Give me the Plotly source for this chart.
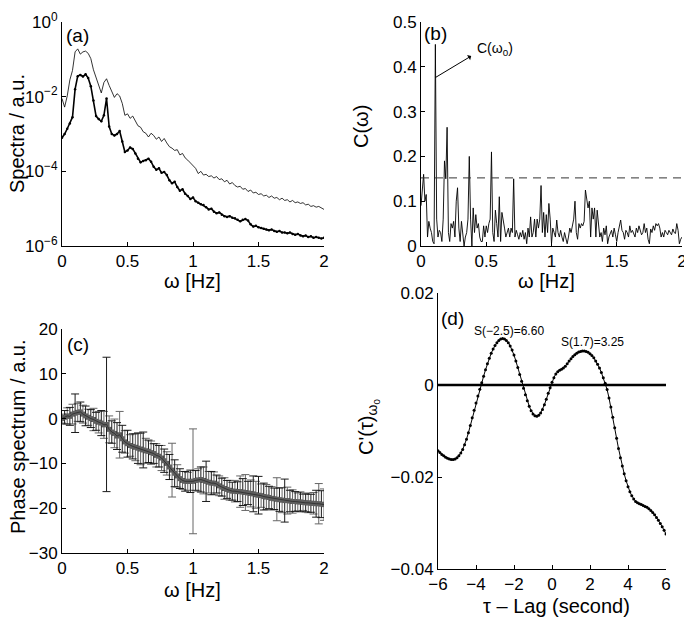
import numpy as np
import plotly.graph_objects as go

# (a) power spectra, log10 of the values
freq_a = np.linspace(0, 2, 101)
upper_exp = [-2.05, -2.28, -1.98, -1.55, -1.30, -0.80, -0.72, -0.86, -0.80, -0.78,
             -0.84, -0.98, -1.28, -1.50, -1.72, -1.90, -1.62, -1.52, -1.70, -1.86,
             -2.02, -1.92, -1.98, -2.18, -2.50, -2.46, -2.58, -2.52, -2.64, -2.78,
             -2.82, -2.94, -2.98, -3.08, -2.98, -3.04, -3.14, -3.08, -3.20, -3.12,
             -3.24, -3.34, -3.38, -3.44, -3.42, -3.56, -3.52, -3.64, -3.70, -3.78,
             -3.84, -3.92, -4.06, -4.00, -4.10, -4.08, -4.14, -4.12, -4.18, -4.14,
             -4.22, -4.20, -4.28, -4.24, -4.34, -4.30, -4.38, -4.42, -4.40, -4.48,
             -4.46, -4.54, -4.50, -4.58, -4.56, -4.62, -4.60, -4.66, -4.64, -4.70,
             -4.66, -4.72, -4.70, -4.76, -4.72, -4.78, -4.76, -4.82, -4.78, -4.84,
             -4.82, -4.86, -4.84, -4.90, -4.88, -4.94, -4.92, -4.96, -4.94, -4.98,
             -5.02]
lower_exp = [-3.10, -3.00, -2.86, -2.72, -2.55, -1.80, -1.45, -1.42, -1.46, -1.40,
             -1.50, -1.72, -2.10, -2.52, -2.60, -2.66, -2.50, -2.05, -2.80, -3.00,
             -3.04, -3.00, -2.92, -3.20, -3.48, -3.44, -3.36, -3.40, -3.52, -3.66,
             -3.76, -3.72, -3.70, -3.66, -3.74, -3.88, -3.96, -3.92, -4.04, -4.02,
             -4.10, -4.24, -4.32, -4.28, -4.42, -4.52, -4.48, -4.60, -4.66, -4.74,
             -4.70, -4.80, -4.84, -4.88, -4.90, -4.96, -5.02, -5.00, -5.08, -5.12,
             -5.10, -5.16, -5.20, -5.22, -5.20, -5.24, -5.26, -5.30, -5.34, -5.30,
             -5.28, -5.32, -5.42, -5.48, -5.46, -5.50, -5.52, -5.54, -5.56, -5.58,
             -5.56, -5.60, -5.62, -5.60, -5.64, -5.64, -5.66, -5.64, -5.68, -5.70,
             -5.68, -5.72, -5.74, -5.72, -5.76, -5.74, -5.78, -5.76, -5.78, -5.80,
             -5.78]

# (b) coherence
freq_b = np.linspace(0, 2, 201)
coherence = [0.09, 0.13, 0.16, 0.10, 0.115, 0.02, 0.055, 0.04, 0.03, 0.01,
             0.005, 0.45, 0.06, 0.02, 0.035, 0.03, 0.01, 0.06, 0.19, 0.15,
             0.265, 0.03, 0.01, 0.05, 0.04, 0.055, 0.02, 0.10, 0.13, 0.04,
             0.01, 0.055, 0.03, 0.0, 0.02, 0.03, 0.06, 0.20, 0.06, 0.0,
             0.085, 0.03, 0.07, 0.04, 0.05, 0.02, 0.01, 0.01, 0.045, 0.02,
             0.045, 0.03, 0.05, 0.06, 0.21, 0.03, 0.01, 0.08, 0.05, 0.02,
             0.11, 0.01, 0.075, 0.06, 0.04, 0.02, 0.03, 0.04, 0.02, 0.04,
             0.03, 0.15, 0.02, 0.035, 0.025, 0.015, 0.03, 0.02, 0.035, 0.015,
             0.03, 0.005, 0.04, 0.02, 0.065, 0.02, 0.03, 0.06, 0.02, 0.06,
             0.04, 0.06, 0.135, 0.03, 0.075, 0.02, 0.07, 0.03, 0.095, 0.06,
             0.005, 0.04, 0.03, 0.02, 0.058, 0.03, 0.02, 0.035, 0.02, 0.01,
             0.03, 0.015, 0.005, 0.02, 0.04, 0.03, 0.045, 0.06, 0.10, 0.03,
             0.015, 0.05, 0.04, 0.05, 0.045, 0.055, 0.125, 0.10, 0.085, 0.10,
             0.02, 0.085, 0.06, 0.085, 0.02, 0.08, 0.05, 0.02, 0.03, 0.01,
             0.04, 0.025, 0.045, 0.005, 0.02, 0.03, 0.035, 0.02, 0.04, 0.025,
             0.01, 0.03, 0.045, 0.058, 0.035, 0.03, 0.015, 0.035, 0.03, 0.02,
             0.045, 0.03, 0.035, 0.025, 0.02, 0.04, 0.03, 0.045, 0.035, 0.025,
             0.03, 0.05, 0.03, 0.04, 0.015, 0.005, 0.038, 0.03, 0.045, 0.035,
             0.05, 0.045, 0.05, 0.04, 0.02, 0.03, 0.02, 0.035, 0.03, 0.025,
             0.035, 0.03, 0.025, 0.038, 0.03, 0.028, 0.05, 0.035, 0.005, 0.015,
             0.02]
coh_threshold = 0.152

# (c) phase spectrum with error bars
freq_c = np.linspace(0, 2, 101)
phase = [0.0, 0.3, 0.6, 0.5, 1.0, 1.2, 1.4, 1.5, 1.0, 0.6,
         0.3, 0.0, -0.2, -0.6, -0.8, -1.0, -1.4, -1.3, -2.4, -3.0,
         -3.3, -3.9, -3.6, -4.5, -5.2, -5.6, -6.0, -6.2, -6.4, -6.6,
         -6.8, -7.0, -7.2, -7.3, -7.6, -7.8, -8.2, -8.4, -8.8, -9.4,
         -10.0, -10.8, -11.5, -12.2, -12.8, -13.4, -13.8, -14.0, -14.0, -14.0,
         -14.0, -13.8, -13.7, -13.6, -13.8, -14.0, -14.2, -14.4, -14.4, -14.6,
         -15.0, -15.3, -15.6, -15.8, -16.0, -16.2, -16.2, -16.3, -16.3, -16.4,
         -16.5, -16.6, -16.7, -16.8, -17.0, -17.1, -17.2, -17.4, -17.5, -17.6,
         -17.8, -17.9, -18.0, -18.1, -18.2, -18.3, -18.3, -18.4, -18.5, -18.5,
         -18.6, -18.6, -18.7, -18.8, -18.8, -18.9, -18.9, -19.0, -19.0, -19.1,
         -19.2]
phase_err = [1.0, 1.5, 1.8, 2.0, 2.2, 4.3, 2.0, 2.2, 2.0, 2.2,
             1.8, 2.0, 2.5, 2.0, 2.4, 2.8, 3.0, 15.0, 3.0, 2.5,
             3.2, 3.0, 5.2, 3.0, 2.5, 3.0, 2.4, 2.8, 3.0, 3.4,
             3.5, 4.0, 2.8, 2.5, 2.6, 2.2, 2.6, 2.4, 2.8, 2.6,
             2.6, 2.8, 6.0, 3.0, 2.5, 2.2, 2.0, 2.2, 2.0, 2.5,
             11.7, 2.2, 2.5, 2.8, 3.0, 4.5, 2.4, 2.6, 2.5, 2.0,
             2.2, 2.0, 2.4, 2.0, 2.2, 2.0, 2.4, 2.2, 3.5, 3.0,
             4.0, 2.6, 3.0, 4.0, 3.0, 4.2, 2.6, 3.0, 2.8, 2.5,
             2.6, 2.4, 4.8, 2.6, 2.8, 4.8, 3.0, 2.4, 2.6, 2.2,
             2.0, 2.2, 1.8, 2.0, 2.2, 2.0, 2.4, 3.0, 4.5, 3.0,
             3.5]

# (d) lagged cross-correlation at omega_0
lag = np.linspace(-6, 6, 121)
cprime = [-0.0143, -0.0147, -0.0151, -0.0154, -0.0157, -0.0159, -0.0161, -0.0162, -0.0162, -0.0161,
          -0.0158, -0.0154, -0.0148, -0.0140, -0.0130, -0.0118, -0.0104, -0.0088, -0.0071, -0.0055,
          -0.0039, -0.0024, -0.0009, 0.0005, 0.0019, 0.0033, 0.0046, 0.0058, 0.0069, 0.0078,
          0.0086, 0.0092, 0.0097, 0.0100, 0.0101, 0.0100, 0.0097, 0.0092, 0.0085, 0.0076,
          0.0065, 0.0052, 0.0038, 0.0023, 0.0008, -0.0007, -0.0021, -0.0034, -0.0046, -0.0056,
          -0.0063, -0.0067, -0.0068, -0.0066, -0.0061, -0.0053, -0.0043, -0.0031, -0.0018, -0.0006,
          0.0006, 0.0016, 0.0024, 0.0029, 0.0032, 0.0034, 0.0037, 0.0041, 0.0046, 0.0052,
          0.0057, 0.0062, 0.0066, 0.0069, 0.0072, 0.0073, 0.0074, 0.0074, 0.0073, 0.0071,
          0.0068, 0.0064, 0.0059, 0.0052, 0.0045, 0.0037, 0.0027, 0.0016, 0.0004, -0.0010,
          -0.0028, -0.0048, -0.0070, -0.0093, -0.0116, -0.0138, -0.0158, -0.0176, -0.0193, -0.0208,
          -0.0221, -0.0232, -0.0241, -0.0248, -0.0253, -0.0256, -0.0258, -0.0260, -0.0262, -0.0264,
          -0.0266, -0.0269, -0.0273, -0.0277, -0.0282, -0.0288, -0.0294, -0.0301, -0.0308, -0.0316,
          -0.0324]

FONT = "Liberation Sans Narrow, Liberation Sans, Arial, sans-serif"
# the page body has an 8px margin, so the figure is 8px smaller and shifted
OFF = 8
W, H = 692 - OFF, 623 - OFF


def fx(px):
    return (px - OFF) / W


def fy(py):
    return 1 - (py - OFF) / H


fig = go.Figure()

# (a)
fig.add_trace(go.Scatter(x=freq_a, y=10 ** np.array(upper_exp), mode="lines",
                         line=dict(color="black", width=0.8), xaxis="x", yaxis="y"))
fig.add_trace(go.Scatter(x=freq_a, y=10 ** np.array(lower_exp), mode="lines+markers",
                         line=dict(color="black", width=1.6), marker=dict(size=2.5, color="black"),
                         xaxis="x", yaxis="y"))

# (b)
fig.add_trace(go.Scatter(x=freq_b, y=coherence, mode="lines",
                         line=dict(color="black", width=0.9), xaxis="x2", yaxis="y2"))
fig.add_trace(go.Scatter(x=[0, 2], y=[coh_threshold, coh_threshold], mode="lines",
                         line=dict(color="#333", width=1, dash="8px,6px"), xaxis="x2", yaxis="y2"))

# (c) alternate bar colours like the original
fc = np.array(freq_c)
ph = np.array(phase)
pe = np.array(phase_err)
for start, col in [(0, "#666666"), (1, "#1a1a1a")]:
    fig.add_trace(go.Scatter(x=fc[start::2], y=ph[start::2], mode="markers",
                             marker=dict(symbol="square", size=5, color="#5e5e5e"),
                             error_y=dict(type="data", array=pe[start::2], color=col,
                                          thickness=1, width=4),
                             xaxis="x3", yaxis="y3"))
fig.add_trace(go.Scatter(x=freq_c, y=phase, mode="lines",
                         line=dict(color="#222", width=0.7), xaxis="x3", yaxis="y3"))

# (d)
fig.add_trace(go.Scatter(x=[-6, 6], y=[0, 0], mode="lines",
                         line=dict(color="black", width=2.5), xaxis="x4", yaxis="y4"))
fig.add_trace(go.Scatter(x=lag, y=cprime, mode="lines+markers",
                         line=dict(color="black", width=1), marker=dict(size=3, color="black"),
                         xaxis="x4", yaxis="y4"))


def ax_style(**kw):
    d = dict(showline=True, linecolor="black", linewidth=1, mirror=False, automargin=False,
             ticks="inside", ticklen=4, tickcolor="black", showgrid=False, zeroline=False,
             tickfont=dict(family=FONT, size=17, color="black"))
    d.update(kw)
    return d


xa = [fx(62), fx(324)]
xb = [fx(421), fx(682)]
xd = [fx(438), fx(666)]
ytop = [fy(246), fy(22)]
yc = [fy(553), fy(329)]
yd = [fy(569), fy(293)]

xticks = [0, 0.5, 1, 1.5, 2]
xticktext = ["0", "0.5", "1", "1.5", "2"]

fig.update_layout(
    template="none",
    width=W, height=H, autosize=False, showlegend=False,
    margin=dict(l=0, r=0, t=0, b=0, pad=0),
    paper_bgcolor="white", plot_bgcolor="white",
    font=dict(family=FONT, color="black"),
    xaxis=ax_style(domain=xa, anchor="y", range=[0, 2], tickvals=xticks, ticktext=xticktext),
    yaxis=ax_style(domain=ytop, anchor="x", type="log", range=[-6, 0],
                   tickvals=[1e-6, 1e-4, 1e-2, 1],
                   ticktext=["10<sup>−6</sup>", "10<sup>−4</sup>", "10<sup>−2</sup>", "10<sup>0</sup>"]),
    xaxis2=ax_style(domain=xb, anchor="y2", range=[0, 2], tickvals=xticks, ticktext=xticktext),
    yaxis2=ax_style(domain=ytop, anchor="x2", range=[0, 0.5],
                    tickvals=[0, 0.1, 0.2, 0.3, 0.4, 0.5]),
    xaxis3=ax_style(domain=xa, anchor="y3", range=[0, 2], tickvals=xticks, ticktext=xticktext),
    yaxis3=ax_style(domain=yc, anchor="x3", range=[-30, 20],
                    tickvals=[-30, -20, -10, 0, 10, 20]),
    xaxis4=ax_style(domain=xd, anchor="y4", range=[-6, 6],
                    tickvals=[-6, -4, -2, 0, 2, 4, 6]),
    yaxis4=ax_style(domain=yd, anchor="x4", range=[-0.04, 0.02],
                    tickvals=[-0.04, -0.02, 0, 0.02], ticktext=["−0.04", "−0.02", "0", "0.02"]),
)


def label(text, px, py, size=20, angle=0):
    fig.add_annotation(text=text, x=fx(px), y=fy(py), xref="paper", yref="paper",
                       showarrow=False, textangle=angle, xanchor="center", yanchor="middle",
                       font=dict(family=FONT, size=size, color="black"))


# axis titles
label("Spectra / a.u.", 17, 134, angle=-90)
label("ω [Hz]", 192, 281)
label("C(ω)", 361, 127, angle=-90)
label("ω [Hz]", 546, 281)
label("Phase spectrum / a.u.", 18, 437, angle=-90)
label("ω [Hz]", 192, 590)
label("C'(τ)<sub>ω<sub>0</sub></sub>", 368, 427, angle=-90)
label("τ – Lag (second)", 556, 606)

# panel tags
label("(a)", 77, 35, size=19)
label("(b)", 435, 33, size=19)
label("(c)", 78, 344, size=19)
label("(d)", 453, 318, size=19)

# (b) arrow pointing to the main coherence peak
fig.add_annotation(x=0.11, y=0.376, ax=0.396, ay=0.426, xref="x2", yref="y2",
                   axref="x2", ayref="y2", text="", showarrow=True, arrowside="start",
                   arrowhead=2, arrowsize=1.3, arrowwidth=1, arrowcolor="black",
                   standoff=0, startstandoff=0)
fig.add_annotation(x=0.41, y=0.44, xref="x2", yref="y2", text="C(ω<sub>0</sub>)",
                   showarrow=False, xanchor="left", yanchor="middle",
                   font=dict(family=FONT, size=14, color="black"))

# (d) peak labels
fig.add_annotation(x=-2.24, y=0.0117, xref="x4", yref="y4", text="S(−2.5)=6.60",
                   showarrow=False, font=dict(family=FONT, size=12, color="black"))
fig.add_annotation(x=2.13, y=0.0093, xref="x4", yref="y4", text="S(1.7)=3.25",
                   showarrow=False, font=dict(family=FONT, size=12, color="black"))

fig.write_html("out.html")
